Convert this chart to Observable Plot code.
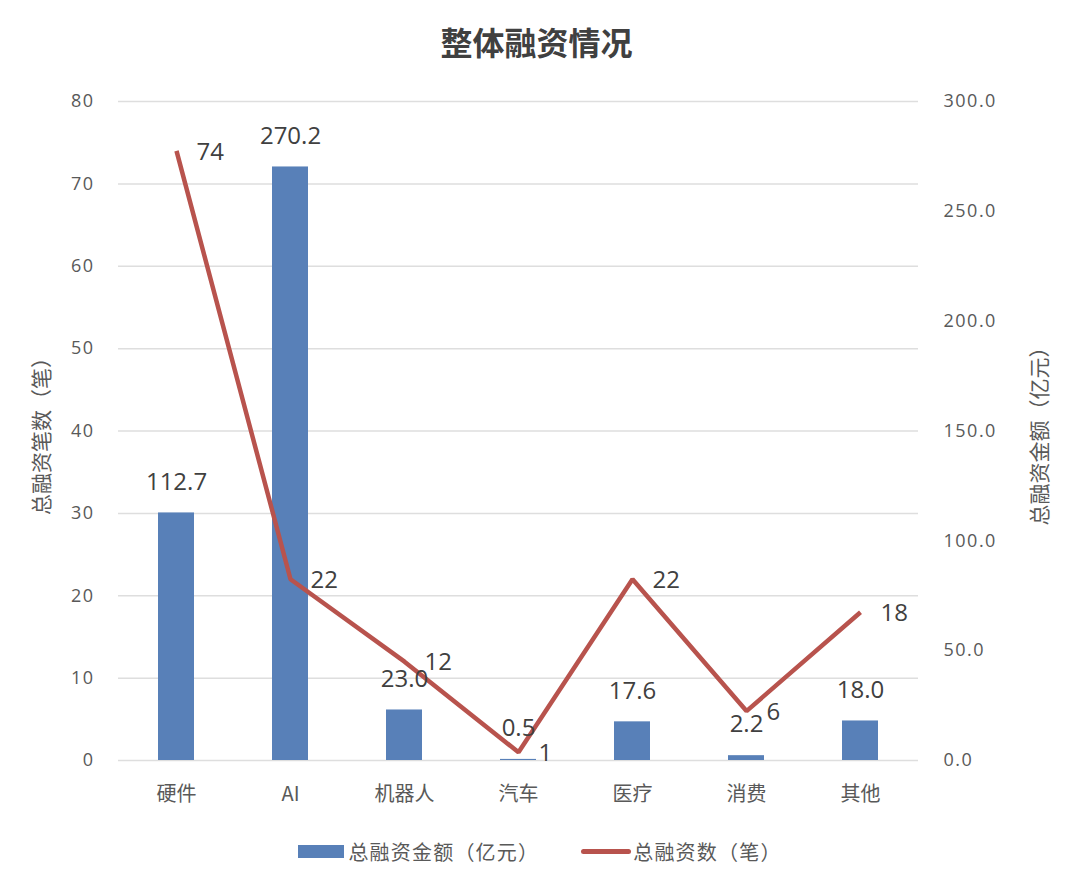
<!DOCTYPE html>
<html>
<head>
<meta charset="utf-8">
<script src="https://cdn.jsdelivr.net/npm/d3@7"></script>
<script src="https://cdn.jsdelivr.net/npm/@observablehq/plot@0.6"></script>
<style>
  html, body { margin: 0; padding: 0; background: #fff; }
  body { width: 1080px; height: 883px; font-family: "Noto Sans CJK SC", "Noto Sans", sans-serif; }
  #title { height: 72px; line-height: 82px; text-align: center; font-size: 32px; font-weight: bold; color: #404040; padding-right: 7px; }
  #legend { display: flex; justify-content: center; align-items: center; height: 38px; font-size: 20px; color: #595959; margin-left: 0px; letter-spacing: 1.2px; }
  .sw-bar { width: 46px; height: 13px; background: #5880b8; margin-right: 4px; }
  .sw-line { width: 50px; height: 5px; border-radius: 3px; background: #b8534d; margin-right: 2px; }
  .item { display: flex; align-items: center; }
  .gap { width: 42px; }
  svg .numtick text { letter-spacing: 1.5px; }
</style>
</head>
<body>
<div id="title">整体融资情况</div>
<div id="chart"></div>
<div id="legend">
  <div class="item"><div class="sw-bar"></div><span>总融资金额（亿元）</span></div>
  <div class="gap"></div>
  <div class="item"><div class="sw-line"></div><span>总融资数（笔）</span></div>
</div>
<script>
const categories = ["硬件", "AI", "机器人", "汽车", "医疗", "消费", "其他"];
const amounts = [112.7, 270.2, 23.0, 0.5, 17.6, 2.2, 18.0];   // 亿元, right axis
const counts = [74, 22, 12, 1, 22, 6, 18];                     // 笔, left axis
const leftTicks = [0, 10, 20, 30, 40, 50, 60, 70, 80];
const rightTicks = [0, 50, 100, 150, 200, 250, 300];
const leftMax = 80, rightMax = 300;

const k = leftMax / rightMax;
const data = categories.map((c, i) => ({cat: c, amount: amounts[i], count: counts[i], amountScaled: amounts[i] * k}));

const font = '"Noto Sans CJK SC", "Noto Sans", sans-serif';
const numFont = '"Open Sans", "Noto Sans", sans-serif';
const chart = Plot.plot({
  width: 1080,
  height: 760,
  marginTop: 29,
  marginBottom: 72,
  marginLeft: 118,
  marginRight: 162,
  style: {fontFamily: font, background: "#fff", overflow: "visible"},
  x: {domain: categories, paddingInner: 0.685, paddingOuter: 0.3425, align: 0.5},
  y: {domain: [0, leftMax]},
  marks: [
    Plot.gridY(leftTicks, {stroke: "#dedede", strokeOpacity: 1, strokeWidth: 1.5}),
    Plot.barY(data, {x: "cat", y: "amountScaled", fill: "#5880b8"}),
    Plot.line(data, {x: "cat", y: "count", stroke: "#b8534d", strokeWidth: 4.5, strokeLinejoin: "miter", strokeLinecap: "butt"}),
    Plot.text(data, {x: "cat", y: "amountScaled", text: d => d.amount.toFixed(1), dy: -31, fontSize: 24, fontFamily: numFont, fill: "#404040"}),
    Plot.text(data, {x: "cat", y: "count", text: d => String(d.count), dx: 20, dy: 1, textAnchor: "start", fontSize: 24, fontFamily: numFont, fill: "#404040"}),
    Plot.axisX({tickSize: 0, tickPadding: 26, fontSize: 20, color: "#595959", label: null}),
    Plot.axisY(leftTicks, {anchor: "left", tickSize: 0, tickPadding: 24, fontSize: 18, fontFamily: numFont, color: "#595959", label: null, className: "numtick"}),
    Plot.axisY(rightTicks.map(v => v * k), {anchor: "right", tickSize: 0, tickPadding: 25, fontSize: 18, fontFamily: numFont, color: "#595959", label: null, className: "numtick", tickFormat: v => (v / k).toFixed(1)}),
    Plot.text(["总融资笔数（笔）"], {frameAnchor: "left", dx: -76, rotate: -90, fontSize: 21, fill: "#595959", textAnchor: "middle"}),
    Plot.text(["总融资金额（亿元）"], {frameAnchor: "right", dx: 122, rotate: -90, fontSize: 21, fill: "#595959", textAnchor: "middle"})
  ]
});
document.getElementById("chart").appendChild(chart);
</script>
</body>
</html>
